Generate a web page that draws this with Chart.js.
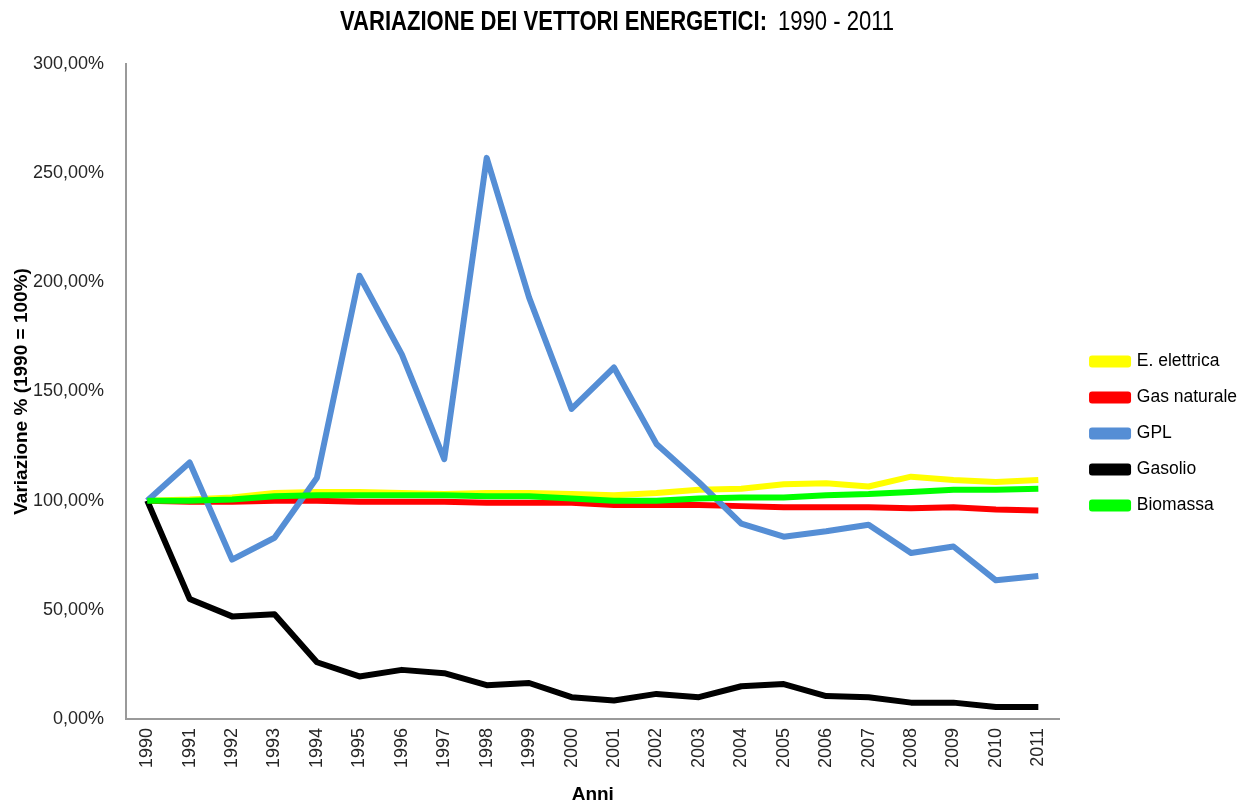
<!DOCTYPE html>
<html>
<head>
<meta charset="utf-8">
<script src="https://cdn.jsdelivr.net/npm/chart.js@4/dist/chart.umd.min.js"></script>
<style>
  html, body { margin: 0; padding: 0; background: #fff; }
  #wrap { width: 1239px; height: 803px; }
</style>
</head>
<body>
<div id="wrap"><canvas id="myChart" width="1239" height="803"></canvas></div>
<script>
const ANNI = ['1990', '1991', '1992', '1993', '1994', '1995', '1996', '1997', '1998', '1999', '2000',
  '2001', '2002', '2003', '2004', '2005', '2006', '2007', '2008', '2009', '2010', '2011'];

// variazione % rispetto al 1990 (1990 = 100%)
const ELETTRICA = [100, 100.5, 101.5, 103.5, 104, 104, 103.5, 103, 103.5, 103.5, 103,
  102.5, 103.5, 105, 105.5, 107.5, 108, 106.5, 111, 109.5, 108.5, 109.5];
const GAS_NATURALE = [100, 99.5, 99.5, 100, 100, 99.5, 99.5, 99.5, 99, 99, 99,
  98, 98, 98, 97.5, 97, 97, 97, 96.5, 97, 96, 95.5];
const GPL = [100, 117.5, 73, 83, 110.5, 203, 167, 119, 257, 193, 142,
  161, 126, 108.5, 89.5, 83.5, 86, 89, 76, 79, 63.5, 65.5];
const GASOLIO = [100, 55, 47, 48, 26, 19.5, 22.5, 21, 15.5, 16.5, 10,
  8.5, 11.5, 10, 15, 16, 10.5, 10, 7.5, 7.5, 5.5, 5.5];
const BIOMASSA = [100, 100, 100.5, 102, 102.5, 102.5, 102.5, 102.5, 102, 102, 101,
  100, 100, 101, 101.5, 101.5, 102.5, 103, 104, 105, 105, 105.5];

const Y_TICKS = [0, 50, 100, 150, 200, 250, 300];

const SANS = "'Liberation Sans', Arial, sans-serif";

function serie(label, values, color, order) {
  return {
    label: label,
    data: values,
    borderColor: color,
    backgroundColor: color,
    borderWidth: 6,
    pointRadius: 0,
    tension: 0,
    borderJoinStyle: 'round',
    order: order
  };
}

// titolo: parte in grassetto + anni, carattere stretto
const titoloPlugin = {
  id: 'titolo',
  afterDraw(chart) {
    const c = chart.ctx;
    const t1 = 'VARIAZIONE DEI VETTORI ENERGETICI:';
    const t2 = '1990 - 2011';
    c.save();
    c.fillStyle = '#000';
    c.textBaseline = 'middle';
    c.textAlign = 'left';
    c.font = 'bold 27px ' + SANS;
    const sx = 427 / c.measureText(t1).width;
    c.translate(340, 23);
    c.scale(sx, 1);
    c.fillText(t1, 0, 0);
    c.font = '27px ' + SANS;
    c.fillText(t2, 438 / sx, 0);
    c.restore();
  }
};

var ctx = document.getElementById('myChart');
var chart = new Chart(ctx, {
  type: 'line',
  data: {
    labels: ANNI,
    datasets: [
      serie('E. elettrica', ELETTRICA, '#ffff00', 4),
      serie('Gas naturale', GAS_NATURALE, '#ff0000', 3),
      serie('GPL', GPL, '#558ed5', 2),
      serie('Gasolio', GASOLIO, '#000000', 1),
      serie('Biomassa', BIOMASSA, '#00ff00', 0)
    ]
  },
  options: {
    responsive: false,
    animation: false,
    layout: { padding: { top: 64, right: -8, bottom: 0, left: 10 } },
    plugins: {
      title: { display: false },
      tooltip: { enabled: false },
      legend: {
        position: 'right',
        labels: {
          boxWidth: 36,
          boxHeight: 6,
          padding: 18.5,
          color: '#000',
          font: { family: SANS, size: 17.5 },
          sort: (a, b) => a.datasetIndex - b.datasetIndex
        }
      }
    },
    scales: {
      x: {
        offset: true,
        afterFit: (s) => { s.height = 84; },
        grid: { display: false },
        border: { display: true, color: '#9a9a9a', width: 2 },
        ticks: {
          minRotation: 90,
          maxRotation: 90,
          autoSkip: false,
          padding: 1,
          color: '#262626',
          font: { family: SANS, size: 18 }
        },
        title: {
          display: true,
          text: 'Anni',
          color: '#000',
          padding: { top: 0, bottom: -3 },
          font: { family: SANS, size: 19, weight: 'bold' }
        }
      },
      y: {
        min: 0,
        max: 300,
        afterBuildTicks: (axis) => { axis.ticks = Y_TICKS.map(v => ({ value: v })); },
        afterFit: (s) => { s.width = 116; },
        grid: { display: false },
        border: { display: true, color: '#9a9a9a', width: 2 },
        ticks: {
          padding: 14,
          color: '#262626',
          font: { family: SANS, size: 18 },
          callback: (v) => v.toFixed(2).replace('.', ',') + '%'
        },
        title: {
          display: true,
          text: 'Variazione % (1990 = 100%)',
          color: '#000',
          padding: { top: 0, bottom: 0 },
          font: { family: SANS, size: 19, weight: 'bold' }
        }
      },
      // spazio vuoto tra area del grafico e legenda
      spazio: {
        type: 'linear',
        position: 'right',
        display: true,
        grid: { display: false },
        border: { display: false },
        ticks: { display: false },
        afterFit: (s) => { s.width = 14; }
      }
    }
  },
  plugins: [titoloPlugin]
});
</script>
</body>
</html>
